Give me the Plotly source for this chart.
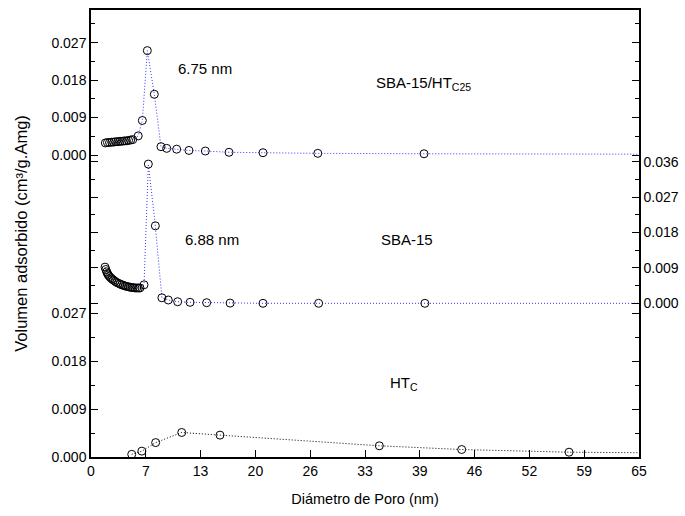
import plotly.graph_objects as go

# ---------------- data ----------------
# SBA-15/HTC25 (top curve, left upper axis)
top_x = [1.7, 1.95, 2.2, 2.45, 2.7, 2.95, 3.2, 3.45, 3.7, 3.95, 4.2, 4.45, 4.7, 4.95, 5.6, 6.09, 6.68, 7.51,
         8.30, 8.98, 10.16, 11.62, 13.56, 16.37, 20.4, 26.9, 39.5, 90.0]
top_y = [0.0029, 0.0030, 0.0030, 0.0031, 0.0031, 0.0032, 0.0032, 0.0033, 0.0033, 0.0034, 0.0034, 0.0035,
         0.0036, 0.0037, 0.0046, 0.0083, 0.0251, 0.0146,
         0.0020, 0.0016, 0.0014, 0.0011, 0.00096, 0.00065, 0.00055, 0.0004, 0.0003, 0.0001]

# SBA-15 (middle curve, right axis)
mid_x = [1.66, 1.76, 1.86, 1.95, 2.05, 2.19, 2.33, 2.49, 2.65, 2.85, 3.05, 3.25, 3.44, 3.63, 3.83, 4.03,
         4.23, 4.43, 4.63, 4.83, 5.02, 5.22, 5.42, 5.62, 5.81, 6.29, 6.80, 7.63,
         8.41, 9.17, 10.28, 11.75, 13.72, 16.5, 20.4, 27.0, 39.6, 90.0]
mid_y = [0.0092, 0.0086, 0.0080, 0.0076, 0.0072, 0.0068, 0.0065, 0.0062, 0.0059, 0.0056, 0.0053, 0.0051,
         0.0049, 0.0047, 0.0046, 0.0044, 0.0043, 0.0042, 0.0041, 0.0040, 0.0040, 0.0039, 0.0039, 0.0039,
         0.0039, 0.0047, 0.0354, 0.0197,
         0.0014, 0.00084, 0.0004, 0.00025, 0.00015, 0.00005, 0.0, 0.0, 0.0, 0.0]

# HTC (bottom curve, left lower axis)
ht_x = [4.83, 6.03, 7.67, 10.76, 15.3, 34.2, 43.97, 56.7, 90.0]
ht_y = [0.0005, 0.0011, 0.0027, 0.0046, 0.0041, 0.0021, 0.0014, 0.0009, 0.0005]

x_tickvals = [0, 6.5, 13, 19.5, 26, 32.5, 39, 45.5, 52, 58.5, 65]
x_ticktext = ["0", "7", "13", "20", "26", "33", "39", "46", "52", "59", "65"]

left_ticks = [0, 0.009, 0.018, 0.027]
left_ticktext = ["0.000", "0.009", "0.018", "0.027"]
low_minor = [0.0045, 0.0135, 0.0225]
up_minor = [0.0045, 0.0135, 0.0225, 0.0315]
right_ticks = [0, 0.009, 0.018, 0.027, 0.036]
right_ticktext = ["0.000", "0.009", "0.018", "0.027", "0.036"]
right_minor = [0.0045, 0.0135, 0.0225, 0.0315]

# ---------------- figure ----------------
REG = "Liberation Sans, Arial, sans-serif"

marker = dict(symbol="circle-open", size=8, color="black", line=dict(width=1, color="black"))
DOT = "1px,2px"

fig = go.Figure()
fig.add_trace(go.Scatter(x=ht_x, y=ht_y, mode="lines+markers", yaxis="y",
                         line=dict(color="black", width=1, dash=DOT), marker=marker,
                         showlegend=False))
fig.add_trace(go.Scatter(x=top_x, y=top_y, mode="lines+markers", yaxis="y2",
                         line=dict(color="#3333ff", width=1, dash=DOT), marker=marker,
                         showlegend=False))
fig.add_trace(go.Scatter(x=mid_x, y=mid_y, mode="lines+markers", yaxis="y3",
                         line=dict(color="#3333ff", width=1, dash=DOT), marker=marker,
                         showlegend=False))

common_y = dict(showgrid=False, zeroline=False, showline=True, linecolor="black", linewidth=1.5,
                ticks="inside", ticklen=7, tickwidth=1.2, tickcolor="black", mirror="ticks",
                tickmode="array", automargin=False,
                tickfont=dict(family=REG, size=14, color="black"))

fig.update_layout(
    width=685, height=516,
    margin=dict(l=91, r=46, t=10, b=59),
    paper_bgcolor="white", plot_bgcolor="white",
    xaxis=dict(range=[0, 65], tickmode="array", tickvals=x_tickvals, ticktext=x_ticktext,
               showgrid=False, zeroline=False, showline=True, linecolor="black", linewidth=1.5,
               mirror=True, ticks="inside", ticklen=7, tickwidth=1.2, tickcolor="black",
               automargin=False,
               tickfont=dict(family=REG, size=14, color="black"),
               title=dict(text="Diámetro de Poro (nm)", font=dict(family=REG, size=14.5, color="black"),
                          standoff=16)),
    yaxis=dict(range=[0, 447 / 5333], tickvals=left_ticks, ticktext=left_ticktext,
               minor=dict(tickmode="array", tickvals=low_minor, ticks="inside", ticklen=4,
                          tickcolor="black", tickwidth=1.2),
               side="left",
               title=dict(text="Volumen adsorbido (cm³/g.Amg)", font=dict(family=REG, size=16.5, color="black"),
                          standoff=20),
               **common_y),
    yaxis2=dict(range=[-(457 - 155) / 4159, (155 - 10) / 4159], tickvals=left_ticks, ticktext=left_ticktext,
                minor=dict(tickmode="array", tickvals=up_minor, ticks="inside", ticklen=4,
                           tickcolor="black", tickwidth=1.2),
                side="left", overlaying="y", **common_y),
    yaxis3=dict(range=[-(457 - 303.3) / 3933, (303.3 - 10) / 3933], tickvals=right_ticks,
                ticktext=right_ticktext,
                minor=dict(tickmode="array", tickvals=right_minor, ticks="inside", ticklen=4,
                           tickcolor="black", tickwidth=1.2),
                side="right", overlaying="y", **common_y),
)

ann_font = dict(family=REG, size=15, color="black")
fig.add_annotation(x=13.5, y=0.0207, xref="x", yref="y2", text="6.75 nm", showarrow=False, font=ann_font)
fig.add_annotation(x=14.35, y=0.0161, xref="x", yref="y3", text="6.88 nm", showarrow=False, font=ann_font)
fig.add_annotation(x=39.4, y=0.0171, xref="x", yref="y2", text="SBA-15/HT<sub>C25</sub>", showarrow=False,
                   font=ann_font)
fig.add_annotation(x=37.5, y=0.0161, xref="x", yref="y3", text="SBA-15", showarrow=False, font=ann_font)
fig.add_annotation(x=37.1, y=0.0137, xref="x", yref="y", text="HT<sub>C</sub>", showarrow=False, font=ann_font)

fig.write_html("out.html")
